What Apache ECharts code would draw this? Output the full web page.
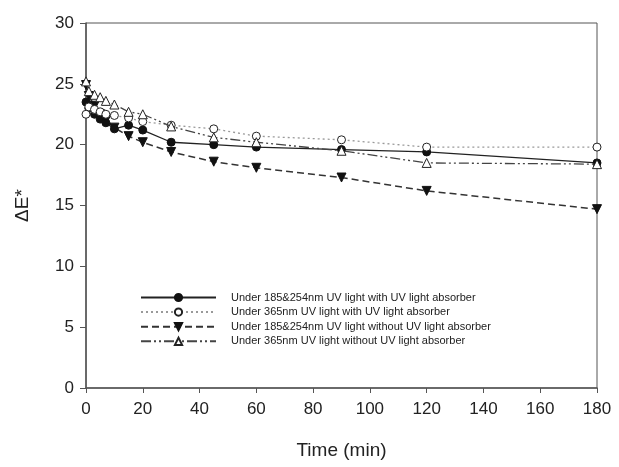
<!DOCTYPE html>
<html lang="en" style="height: 100%">
<head>
  <meta charset="utf-8">
  <title>Delta E vs time</title>
</head>
<body style="height: 100%; margin: 0; background: #fff">
  <div id="container" style="height: 100%"></div>

  <script type="text/javascript" src="https://cdn.jsdelivr.net/npm/echarts@6/dist/echarts.min.js"></script>

  <script type="text/javascript">
    var dom = document.getElementById('container');
    var myChart = echarts.init(dom, null, { renderer: 'canvas' });

    // 时间 (min)
    const times = [0, 1, 3, 5, 7, 10, 15, 20, 30, 45, 60, 90, 120, 180];
    // 各系列 ΔE*
    const names = [
      'Under 185&254nm UV light with UV light absorber',
      'Under 365nm UV light with UV light absorber',
      'Under 185&254nm UV light without UV light absorber',
      'Under 365nm UV light without UV light absorber'
    ];
    const s1 = [23.5, 23.0, 22.5, 22.1, 21.8, 21.3, 21.6, 21.2, 20.2, 20.0, 19.8, 19.6, 19.4, 18.5];
    const s2 = [22.5, 23.1, 22.9, 22.7, 22.5, 22.4, 22.2, 21.9, 21.6, 21.3, 20.7, 20.4, 19.8, 19.8];
    const s3 = [24.9, 24.0, 23.2, 22.5, 22.0, 21.4, 20.7, 20.2, 19.4, 18.6, 18.1, 17.3, 16.2, 14.7];
    const s4 = [25.2, 24.4, 24.1, 23.9, 23.6, 23.3, 22.7, 22.5, 21.5, 20.6, 20.2, 19.5, 18.5, 18.4];

    function pairs(vals) {
      return times.map(function (t, i) { return [t, vals[i]]; });
    }

    const font = 'Liberation Sans, Arial, sans-serif';
    const axisColor = '#555';

    var option = {
      backgroundColor: '#fff',
      animation: false,
      textStyle: { fontFamily: font },
      grid: {
        left: 86, right: 22, top: 23, bottom: 79,
        show: true, borderColor: axisColor, borderWidth: 1
      },
      legend: {
        orient: 'vertical',
        left: 135,
        top: 287,
        itemWidth: 75,
        itemHeight: 9,
        itemGap: 3.6,
        textStyle: { fontFamily: font, fontSize: 11, color: '#222', padding: [0, 0, 0, 10] },
        data: names
      },
      xAxis: {
        type: 'value',
        min: 0, max: 180, interval: 20,
        name: 'Time (min)',
        nameLocation: 'middle',
        nameGap: 53,
        nameTextStyle: { fontSize: 19, color: '#222', fontFamily: font },
        axisLine: { lineStyle: { color: axisColor, width: 1.5 } },
        axisTick: { length: 5, lineStyle: { color: axisColor } },
        axisLabel: { fontSize: 17, color: '#222', margin: 13, fontFamily: font },
        splitLine: { show: false }
      },
      yAxis: {
        type: 'value',
        min: 0, max: 30, interval: 5,
        name: 'ΔE*',
        nameLocation: 'middle',
        nameGap: 54,
        nameRotate: 90,
        nameTextStyle: { fontSize: 19, color: '#222', fontFamily: font },
        axisLine: { show: true, lineStyle: { color: axisColor, width: 1.5 } },
        axisTick: { show: true, length: 6, lineStyle: { color: axisColor } },
        axisLabel: { fontSize: 17, color: '#222', margin: 12, fontFamily: font },
        splitLine: { show: false }
      },
      series: [
        {
          name: names[0],
          type: 'line',
          data: pairs(s1),
          symbol: 'circle',
          symbolSize: 8,
          itemStyle: { color: '#111', borderColor: '#111', borderWidth: 1 },
          lineStyle: { color: '#222', width: 1.3, type: 'solid' },
          z: 3
        },
        {
          name: names[1],
          type: 'line',
          data: pairs(s2),
          symbol: 'circle',
          symbolSize: 8,
          itemStyle: { color: '#fff', borderColor: '#222', borderWidth: 1 },
          lineStyle: { color: '#999', width: 1.3, type: [2, 3] },
          z: 4
        },
        {
          name: names[2],
          type: 'line',
          data: pairs(s3),
          symbol: 'triangle',
          symbolRotate: 180,
          symbolSize: 9,
          itemStyle: { color: '#111', borderColor: '#111', borderWidth: 1 },
          lineStyle: { color: '#333', width: 1.5, type: [7, 4] },
          z: 2
        },
        {
          name: names[3],
          type: 'line',
          data: pairs(s4),
          symbol: 'triangle',
          symbolSize: 9,
          itemStyle: { color: '#fff', borderColor: '#222', borderWidth: 1 },
          lineStyle: { color: '#444', width: 1.3, type: [10, 3, 2, 3, 2, 3] },
          z: 5
        }
      ]
    };

    if (option && typeof option === 'object') {
      myChart.setOption(option);
    }

    window.addEventListener('resize', myChart.resize);
  </script>
</body>
</html>
